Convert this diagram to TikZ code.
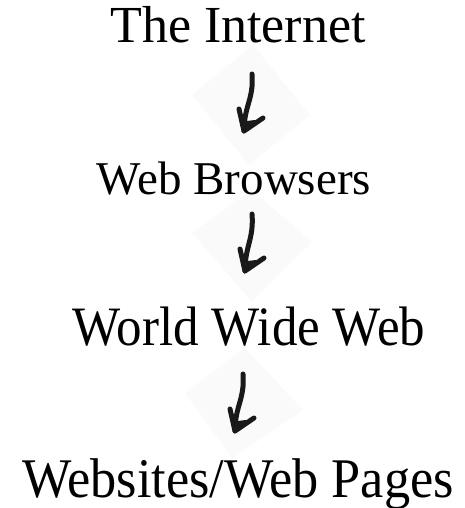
\documentclass[tikz,border=0pt]{standalone}
\usepackage{fontspec}
\setmainfont{Liberation Serif}
\usetikzlibrary{calc}
\begin{document}
\begin{tikzpicture}[x=1pt,y=-1pt,
  lbl/.style={anchor=base, inner sep=0pt, text=black},
  diam/.style={fill=black!2, draw=none},
  hand/.style={line width=5pt, line cap=round, line join=round, draw=black!90},
  handfill/.style={fill=black!90, draw=black!90, line width=2pt, line join=round}]
\useasboundingbox (0,0) rectangle (465,508);
% faint diamonds behind the arrows
\fill[diam] (192,95) -- (253,45) -- (310,115) -- (249,165) -- cycle;
\fill[diam] (192,233) -- (252,190) -- (312,242) -- (252,302) -- cycle;
\fill[diam] (185,393) -- (245,348) -- (303,410) -- (232,458) -- cycle;
% labels
\node[lbl, font=\fontsize{52}{60}\selectfont] (t1) at (238,43) {The Internet};
\node[lbl, font=\fontsize{47}{56}\selectfont] (t2) at (234,194) {Web Browsers};
\node[lbl, font=\fontsize{51}{60}\selectfont] (t3) at (249,345) {\scalebox{1}[1.09]{World Wide Web}};
\node[lbl, font=\fontsize{52.3}{60}\selectfont] (t4) at (238,497) {\scalebox{1}[1.07]{Websites/Web Pages}};
% arrow end points
\coordinate (a1s) at (252,74);  \coordinate (a1e) at (244,131);
\coordinate (a2s) at (252,214); \coordinate (a2e) at (245,271);
\coordinate (a3s) at (243,374); \coordinate (a3e) at (235,431);
% hand drawn arrows
\foreach \s/\e in {a1s/a1e, a2s/a2e, a3s/a3e}{
  \draw[hand] (\s) .. controls ($(\s)+(2,25)$) and ($(\e)+(0,-25)$) .. (\e);
  \draw[hand] ($(\e)+(-5,-22)$) -- (\e) -- ($(\e)+(19,-13)$);
  \filldraw[handfill] (\e) -- ($(\e)+(-3,-14)$) -- ($(\e)+(3,-9)$) -- ($(\e)+(11,-10)$) -- cycle;
}
\end{tikzpicture}
\end{document}
